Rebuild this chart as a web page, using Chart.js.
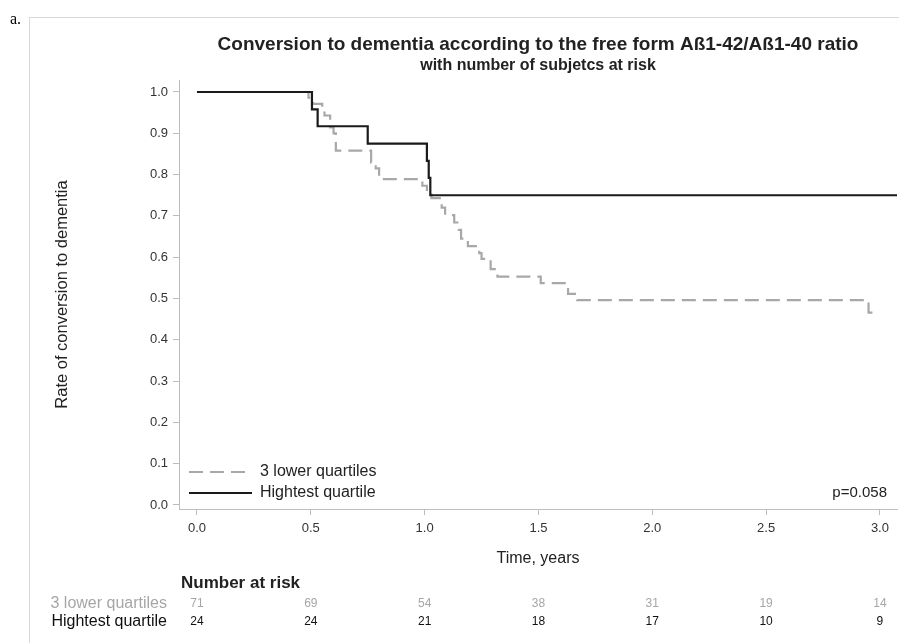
<!DOCTYPE html>
<html>
<head>
<meta charset="utf-8">
<script src="https://cdn.jsdelivr.net/npm/chart.js@4/dist/chart.umd.min.js"></script>
<style>
  html, body { margin: 0; padding: 0; background: #fff; }
</style>
</head>
<body>
<canvas id="km-chart" width="899" height="643"></canvas>
<script>
  // Kaplan-Meier steps (time in years -> rate)
  const lowerTimes = [0, 0.49, 0.51, 0.55, 0.56, 0.585, 0.60, 0.61, 0.765, 0.785, 0.80, 0.99, 1.01, 1.03,
    1.075, 1.09, 1.13, 1.15, 1.16, 1.19, 1.24, 1.25, 1.29, 1.32, 1.51, 1.63, 1.67, 2.95, 2.99];
  const lowerRates = [1.0, 0.986, 0.971, 0.957, 0.943, 0.914, 0.90, 0.858, 0.829, 0.815, 0.789, 0.773, 0.758, 0.743,
    0.72, 0.702, 0.684, 0.666, 0.645, 0.627, 0.61, 0.596, 0.571, 0.553, 0.537, 0.511, 0.496, 0.466, 0.466];

  const highTimes = [0, 0.505, 0.53, 0.75, 1.01, 1.018, 1.025, 3.075];
  const highRates = [1.0, 0.958, 0.917, 0.875, 0.833, 0.792, 0.75, 0.75];

  const seriesNames = ["3 lower quartiles", "Hightest quartile"];
  const xTicks = [0, 0.5, 1.0, 1.5, 2.0, 2.5, 3.0];
  const yTicks = [0, 0.1, 0.2, 0.3, 0.4, 0.5, 0.6, 0.7, 0.8, 0.9, 1.0];

  // number of subjects at risk below the plot
  const riskTimes = [0, 0.5, 1.0, 1.5, 2.0, 2.5, 3.0];
  const riskLower = [71, 69, 54, 38, 31, 19, 14];
  const riskHigh = [24, 24, 21, 18, 17, 10, 9];

  const titleText = "Conversion to dementia according to the free form A\u00df1-42/A\u00df1-40 ratio";
  const subtitleText = "with number of subjetcs at risk";
  const pValueText = "p=0.058";

  const FONT = "'Liberation Sans', Arial, sans-serif";
  const GRAY_LINE = "#a8a8a8";
  const AXIS_GRAY = "#bdbdbd";

  const toPoints = (xs, ys) => xs.map((x, i) => ({ x: x, y: ys[i] }));

  // Draws frame, titles, legend, p-value and the at-risk table
  const decorPlugin = {
    id: "decor",
    afterDraw(chart) {
      const ctx = chart.ctx;
      const area = chart.chartArea;
      const xs = chart.scales.x;
      ctx.save();

      // outer frame and panel letter
      ctx.strokeStyle = "#d8d8d8";
      ctx.lineWidth = 1;
      ctx.strokeRect(29.5, 17.5, 900, 700);
      ctx.fillStyle = "#000";
      ctx.font = "16px 'Liberation Serif', serif";
      ctx.textAlign = "left";
      ctx.textBaseline = "alphabetic";
      ctx.fillText("a.", 10, 24);

      // titles
      const cx = (area.left + area.right) / 2;
      ctx.fillStyle = "#222";
      ctx.textAlign = "center";
      ctx.textBaseline = "middle";
      ctx.font = "bold 19px " + FONT;
      ctx.fillText(titleText, cx, 45);
      ctx.font = "bold 16px " + FONT;
      ctx.fillText(subtitleText, cx, 66);

      // legend inside the plot area
      const legY = [472, 493];
      const ds = chart.data.datasets;
      ds.forEach((d, i) => {
        ctx.strokeStyle = d.borderColor;
        ctx.lineWidth = d.borderWidth;
        ctx.setLineDash(d.borderDash || []);
        ctx.beginPath();
        ctx.moveTo(area.left + 10, legY[i]);
        ctx.lineTo(area.left + 73, legY[i]);
        ctx.stroke();
        ctx.setLineDash([]);
        ctx.fillStyle = "#222";
        ctx.textAlign = "left";
        ctx.font = "16px " + FONT;
        ctx.fillText(d.label, area.left + 81, legY[i]);
      });

      ctx.textAlign = "right";
      ctx.font = "15px " + FONT;
      ctx.fillText(pValueText, area.right - 10, legY[1]);

      // number at risk table
      ctx.textAlign = "left";
      ctx.font = "bold 17px " + FONT;
      ctx.fillStyle = "#222";
      ctx.fillText("Number at risk", 181, 583);

      const rows = [
        { name: seriesNames[0], vals: riskLower, color: "#a6a6a6", y: 604 },
        { name: seriesNames[1], vals: riskHigh, color: "#111", y: 622 }
      ];
      rows.forEach((r) => {
        ctx.fillStyle = r.color;
        ctx.textAlign = "right";
        ctx.font = "16px " + FONT;
        ctx.fillText(r.name, 167, r.y);
        ctx.textAlign = "center";
        ctx.font = "12px " + FONT;
        r.vals.forEach((v, i) => {
          ctx.fillText(String(v), xs.getPixelForValue(riskTimes[i]), r.y);
        });
      });
      ctx.restore();
    }
  };

  const createChart = (ctx) => {
    return new Chart(ctx, {
      type: "line",
      data: {
        datasets: [
          {
            label: seriesNames[0],
            data: toPoints(lowerTimes, lowerRates),
            borderColor: GRAY_LINE,
            borderWidth: 2.2,
            borderDash: [14, 7],
            stepped: "before",
            pointRadius: 0,
            fill: false,
            order: 1
          },
          {
            label: seriesNames[1],
            data: toPoints(highTimes, highRates),
            borderColor: "#1a1a1a",
            borderWidth: 2.2,
            stepped: "before",
            pointRadius: 0,
            fill: false,
            order: 0
          }
        ]
      },
      options: {
        responsive: false,
        animation: false,
        layout: { padding: { left: 53, top: 80, right: 2, bottom: 75 } },
        plugins: {
          legend: { display: false },
          tooltip: { enabled: false }
        },
        scales: {
          x: {
            type: "linear",
            min: -0.079,
            max: 3.075,
            afterFit: (s) => { s.height = 59; },
            afterBuildTicks: (s) => { s.ticks = xTicks.map((v) => ({ value: v })); },
            ticks: {
              callback: (v) => Number(v).toFixed(1),
              color: "#333",
              font: { family: FONT, size: 13 },
              padding: 6,
              maxRotation: 0
            },
            grid: { drawOnChartArea: false, tickLength: 6, color: AXIS_GRAY },
            border: { color: AXIS_GRAY },
            title: {
              display: true,
              text: "Time, years",
              color: "#222",
              font: { family: FONT, size: 16 },
              padding: 0
            }
          },
          y: {
            type: "linear",
            min: -0.0097,
            max: 1.029,
            afterFit: (s) => { s.width = 126; },
            afterBuildTicks: (s) => { s.ticks = yTicks.map((v) => ({ value: v })); },
            ticks: {
              callback: (v) => Number(v).toFixed(1),
              color: "#333",
              font: { family: FONT, size: 13 },
              padding: 5
            },
            grid: { drawOnChartArea: false, tickLength: 6, color: AXIS_GRAY },
            border: { color: AXIS_GRAY },
            title: {
              display: true,
              text: "Rate of conversion to dementia",
              color: "#222",
              font: { family: FONT, size: 16.5 },
              padding: 0
            }
          }
        }
      },
      plugins: [decorPlugin]
    });
  };

  const ctx = document.getElementById("km-chart").getContext("2d");
  createChart(ctx);
</script>
</body>
</html>
